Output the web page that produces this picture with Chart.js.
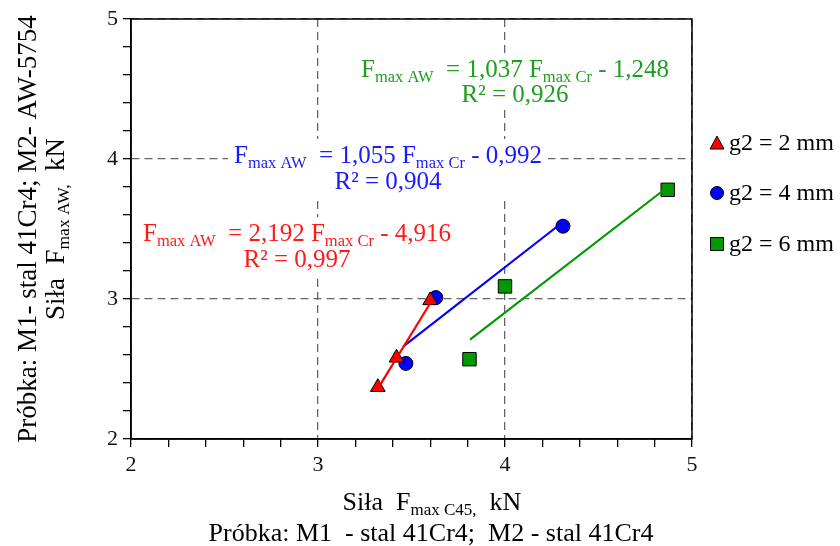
<!DOCTYPE html>
<html lang="pl">
<head>
<meta charset="utf-8">
<script src="https://cdn.jsdelivr.net/npm/chart.js@4.4.1/dist/chart.umd.min.js"></script>
<style>
  html, body { margin: 0; background: #fff; }
</style>
</head>
<body>
<canvas id="grafico" width="840" height="546"></canvas>
<script>
// dane
const etykiety = ["g2 = 2 mm", "g2 = 4 mm", "g2 = 6 mm"];
const x2mm = [3.32, 3.42, 3.60];
const y2mm = [2.37, 2.58, 2.99];
const x4mm = [3.47, 3.63, 4.31];
const y4mm = [2.54, 3.01, 3.52];
const x6mm = [3.81, 4.00, 4.87];
const y6mm = [2.57, 3.09, 3.78];

// linie trendu - poczatek i koniec
const trendX2 = [3.32, 3.60];
const trendY2 = [2.36, 2.97];
const trendX4 = [3.455, 4.31];
const trendY4 = [2.66, 3.55];
const trendX6 = [3.813, 4.87];
const trendY6 = [2.71, 3.80];

const opisyOsi = [2, 3, 4, 5];

const rownania = [
  { a: "2,192", b: "4,916", r2: "0,997" },
  { a: "1,055", b: "0,992", r2: "0,904" },
  { a: "1,037", b: "1,248", r2: "0,926" }
];

const kolory = ["#ff0000", "#0000ff", "#009a00"];
const koloryTekstu = ["#ff1a1a", "#1a1aff", "#1f9e1f"];
const czcionka = "'Liberation Serif', 'Times New Roman', serif";

function punkty(xs, ys) {
  return xs.map((x, i) => ({ x: x, y: ys[i] }));
}

function liniaTrendu(xs, ys, kolor) {
  return {
    data: punkty(xs, ys),
    showLine: true,
    borderColor: kolor,
    borderWidth: 2.2,
    pointRadius: 0,
    fill: false,
    order: 0
  };
}

function seria(xs, ys, kolor, ksztalt, r) {
  return {
    label: "",
    data: punkty(xs, ys),
    backgroundColor: kolor,
    borderColor: "#000",
    borderWidth: 1,
    pointStyle: ksztalt,
    pointRadius: r,
    pointHoverRadius: r,
    showLine: false,
    order: 1
  };
}

// tekst z indeksami dolnymi: [tekst, rozmiar, przesuniecie]
function szerokosc(ctx, czesci) {
  let w = 0;
  czesci.forEach((c) => {
    ctx.font = c[1] + "px " + czcionka;
    w += ctx.measureText(c[0]).width;
  });
  return w;
}

function rysujTekst(ctx, czesci, cx, y, kolor) {
  const w = szerokosc(ctx, czesci);
  let x = cx - w / 2;
  ctx.fillStyle = kolor;
  ctx.textAlign = "left";
  ctx.textBaseline = "alphabetic";
  czesci.forEach((c) => {
    ctx.font = c[1] + "px " + czcionka;
    ctx.fillText(c[0], x, y + (c[2] || 0));
    x += ctx.measureText(c[0]).width;
  });
}

const pozycjeRownan = [
  { cx: 297, y1: 241, y2: 267 },
  { cx: 388, y1: 163, y2: 189 },
  { cx: 515, y1: 77, y2: 102 }
];

const opisy = {
  id: "opisy",
  beforeDatasetsDraw(chart) {
    const ctx = chart.ctx;
    ctx.save();
    rownania.forEach((r, i) => {
      const p = pozycjeRownan[i];
      const linia1 = [
        ["F", 25], ["max AW", 16.5, 5], ["  = " + r.a + " ", 25],
        ["F", 25], ["max Cr", 16.5, 5], [" - " + r.b, 25]
      ];
      const linia2 = [["R² = " + r.r2, 25]];
      const w = szerokosc(ctx, linia1);
      ctx.fillStyle = "#fff";
      ctx.fillRect(p.cx - w / 2 - 6, p.y1 - 24, w + 12, p.y2 - p.y1 + 32);
      rysujTekst(ctx, linia1, p.cx, p.y1, koloryTekstu[i]);
      rysujTekst(ctx, linia2, p.cx, p.y2, koloryTekstu[i]);
    });
    ctx.restore();
  },
  afterDraw(chart) {
    const ctx = chart.ctx;
    const a = chart.chartArea;
    ctx.save();
    // ramka
    ctx.strokeStyle = "#000";
    ctx.lineWidth = 1.5;
    ctx.strokeRect(a.left, a.top, a.right - a.left, a.bottom - a.top);

    // tytuly osi
    rysujTekst(ctx, [["Siła  F", 26], ["max C45,", 17, 5], ["  kN", 26]], 432, 510, "#000");
    rysujTekst(ctx, [["Próbka: M1  - stal 41Cr4;  M2 - stal 41Cr4", 26]], 431, 541, "#000");

    ctx.save();
    ctx.translate(27, 229);
    ctx.rotate(-Math.PI / 2);
    rysujTekst(ctx, [["Próbka: M1- stal 41Cr4; M2- AW-5754", 27]], 0, 9, "#000");
    ctx.restore();
    ctx.save();
    ctx.translate(55, 229);
    ctx.rotate(-Math.PI / 2);
    rysujTekst(ctx, [["Siła  F", 27], ["max AW,", 17.5, 5], ["  kN", 27]], 0, 9, "#000");
    ctx.restore();

    // legenda
    const wiersze = [143, 193, 244];
    const ksztalty = ["triangle", "circle", "rect"];
    wiersze.forEach((yy, i) => {
      const xs = 717;
      ctx.fillStyle = kolory[i];
      ctx.strokeStyle = "#000";
      ctx.lineWidth = 1;
      ctx.beginPath();
      if (ksztalty[i] === "triangle") {
        ctx.moveTo(xs, yy - 7);
        ctx.lineTo(xs + 7, yy + 6);
        ctx.lineTo(xs - 7, yy + 6);
        ctx.closePath();
      } else if (ksztalty[i] === "circle") {
        ctx.arc(xs, yy, 6.5, 0, Math.PI * 2);
      } else {
        ctx.rect(xs - 6.5, yy - 6.5, 13, 13);
      }
      ctx.fill();
      ctx.stroke();
      ctx.fillStyle = "#000";
      ctx.font = "24px " + czcionka;
      ctx.textAlign = "left";
      ctx.textBaseline = "middle";
      ctx.fillText(etykiety[i], 729, yy + 1);
    });
    ctx.restore();
  }
};

function os() {
  return {
    type: "linear",
    min: 2,
    max: 5,
    ticks: {
      stepSize: 0.2,
      autoSkip: false,
      color: "#111",
      padding: 5,
      font: { family: czcionka, size: 22 },
      callback: (v) => {
        const n = Math.round(v);
        return Math.abs(v - n) < 1e-6 && opisyOsi.includes(n) ? String(n) : "";
      }
    },
    grid: {
      color: (c) => {
        const v = c.tick ? c.tick.value : 0;
        return Math.abs(v - Math.round(v)) < 1e-6 ? "#666" : "rgba(0,0,0,0)";
      },
      lineWidth: 1.3,
      tickColor: "#000",
      tickLength: 8,
      tickWidth: 1.3
    },
    border: { display: true, color: "#000", width: 1.5, dash: [8, 5] }
  };
}

const osX = os();
osX.afterFit = (s) => { s.height = 40; };
const osY = os();
osY.afterFit = (s) => { s.width = 40; };

const config = {
  type: "scatter",
  data: {
    datasets: [
      liniaTrendu(trendX2, trendY2, kolory[0]),
      liniaTrendu(trendX4, trendY4, kolory[1]),
      liniaTrendu(trendX6, trendY6, kolory[2]),
      seria(x2mm, y2mm, kolory[0], "triangle", 8.5),
      seria(x4mm, y4mm, kolory[1], "circle", 7),
      seria(x6mm, y6mm, kolory[2], "rect", 9.5)
    ]
  },
  options: {
    responsive: false,
    animation: false,
    layout: { padding: { left: 91, right: 148, top: 19, bottom: 67 } },
    plugins: {
      legend: { display: false },
      tooltip: { enabled: false }
    },
    scales: { x: osX, y: osY }
  },
  plugins: [opisy]
};

new Chart(document.getElementById("grafico"), config);
</script>
</body>
</html>
